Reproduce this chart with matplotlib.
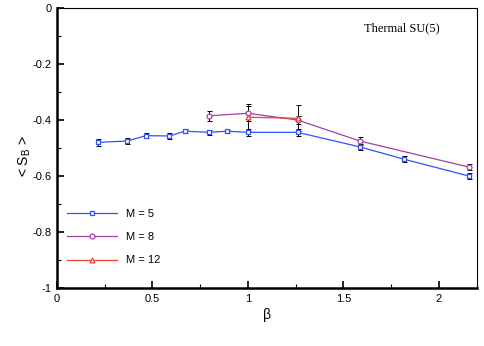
import numpy as np
import matplotlib.pyplot as plt
from matplotlib.ticker import MultipleLocator

plt.rcParams['font.family'] = ['Liberation Sans', 'DejaVu Sans']

# M = 5
beta5 = [0.216, 0.368, 0.466, 0.588, 0.670, 0.797, 0.892, 1.0, 1.26, 1.586, 1.818, 2.157]
s5 = [-0.480, -0.475, -0.456, -0.457, -0.440, -0.444, -0.440, -0.444, -0.444, -0.496, -0.540, -0.600]
e5 = [0.012, 0.010, 0.010, 0.011, 0.008, 0.010, 0.006, 0.012, 0.012, 0.012, 0.010, 0.010]

# M = 8
beta8 = [0.797, 1.0, 1.26, 1.586, 2.157]
s8 = [-0.385, -0.376, -0.400, -0.475, -0.568]
e8 = [0.018, 0.027, 0.016, 0.013, 0.012]

# M = 12
beta12 = [1.0, 1.26]
s12 = [-0.390, -0.394]
e12 = [0.048, 0.046]

Azul = '#3050f8'
Morado = '#a040a8'
Rojo = '#f04030'

fig = plt.figure(figsize=(4.85, 3.46), dpi=100)
ax = fig.add_axes([0.1175, 0.1676, 0.866, 0.8093])

for b, s, e, c, m, lab in [(beta5, s5, e5, Azul, 's', 'M = 5'),
                           (beta8, s8, e8, Morado, 'o', 'M = 8'),
                           (beta12, s12, e12, Rojo, '^', 'M = 12')]:
    ax.errorbar(b, s, yerr=e, fmt='none', ecolor='black', elinewidth=0.7,
                capsize=1.8, capthick=0.7, zorder=2)
    ax.plot(b, s, '-', color=c, lw=0.9, marker=m, ms=3.5, mfc='white',
            mec=c, mew=0.9, label=lab, zorder=3)

ax.set_xlim(0, 2.2)
ax.set_ylim(-1, 0)
ax.xaxis.set_major_locator(MultipleLocator(0.5))
ax.xaxis.set_minor_locator(MultipleLocator(0.25))
ax.yaxis.set_major_locator(MultipleLocator(0.2))
ax.yaxis.set_minor_locator(MultipleLocator(0.1))
ax.xaxis.set_major_formatter(plt.FuncFormatter(lambda v, p: '%g' % round(v, 6)))
ax.yaxis.set_major_formatter(plt.FuncFormatter(lambda v, p: '%g' % round(v, 6)))
ax.tick_params(which='both', direction='in', top=False, right=False,
               labelsize=8, pad=4)
ax.tick_params(which='major', length=5, width=1.2)
ax.tick_params(which='minor', length=3, width=0.8)
ax.spines['left'].set_linewidth(1.8)
ax.spines['bottom'].set_linewidth(1.8)
ax.spines['top'].set_linewidth(0.8)
ax.spines['right'].set_linewidth(0.8)

ax.set_xlabel('β', fontsize=10, labelpad=3)
ax.set_ylabel('< S$_\\mathregular{B}$ >', fontsize=10)
ax.yaxis.set_label_coords(-0.058, 0.47)
ax.text(0.912, 0.95, 'Thermal SU(5)', transform=ax.transAxes, ha='right',
        va='top', fontsize=9, family='Liberation Serif')

ax.legend(loc='lower left', bbox_to_anchor=(0.0, 0.045), frameon=False,
          fontsize=8, handlelength=4.5, labelspacing=1.2)

fig.savefig('out.png', dpi=100)
